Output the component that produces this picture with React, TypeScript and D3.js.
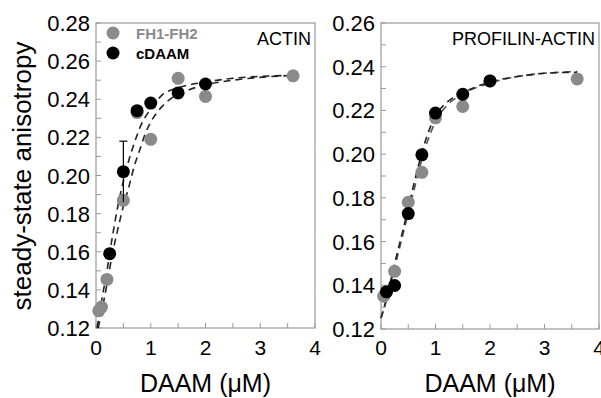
import * as d3 from "d3";
import { useEffect, useRef } from "react";

// concentrations (µM) and steady-state anisotropy
const actinFH1FH2X = [0.05, 0.1, 0.2, 0.5, 0.75, 1.0, 1.5, 2.0, 3.6];
const actinFH1FH2Y = [0.129, 0.131, 0.1455, 0.187, 0.233, 0.219, 0.251, 0.2415, 0.2523];
const actinFH1FH2Err = [0, 0, 0, 0, 0, 0, 0, 0, 0];
const actinCDAAMX = [0.25, 0.5, 0.75, 1.0, 1.5, 2.0];
const actinCDAAMY = [0.159, 0.202, 0.234, 0.238, 0.2433, 0.248];
const actinCDAAMErr = [0, 0.016, 0.002, 0, 0, 0.002];

const profFH1FH2X = [0.05, 0.1, 0.25, 0.5, 0.75, 1.0, 1.5, 2.0, 3.6];
const profFH1FH2Y = [0.135, 0.137, 0.1464, 0.178, 0.1917, 0.2166, 0.2218, 0.2335, 0.2344];
const profFH1FH2Err = [0, 0, 0, 0, 0.002, 0.002, 0.003, 0.002, 0];
const profCDAAMX = [0.1, 0.25, 0.5, 0.75, 1.0, 1.5, 2.0];
const profCDAAMY = [0.137, 0.1399, 0.1728, 0.1997, 0.2188, 0.2274, 0.2335];
const profCDAAMErr = [0, 0, 0, 0.002, 0, 0.002, 0.002];

// fitted curves
const actinFitCDAAMX = [0.02, 0.1, 0.2, 0.3, 0.4, 0.5, 0.6, 0.7, 0.8, 1.0, 1.2, 1.5, 2.0, 2.5, 3.0, 3.6];
const actinFitCDAAMY = [0.12, 0.134, 0.15, 0.168, 0.184, 0.197, 0.208, 0.217, 0.225, 0.235, 0.242, 0.246, 0.249, 0.251, 0.252, 0.2525];
const actinFitFH1FH2X = [0.04, 0.1, 0.2, 0.3, 0.4, 0.5, 0.6, 0.7, 0.8, 0.9, 1.0, 1.2, 1.4, 1.7, 2.0, 2.5, 3.0, 3.6];
const actinFitFH1FH2Y = [0.12, 0.128, 0.143, 0.159, 0.172, 0.184, 0.194, 0.205, 0.2135, 0.222, 0.228, 0.236, 0.241, 0.245, 0.2475, 0.25, 0.2515, 0.2525];
const profFitCDAAMX = [0, 0.1, 0.2, 0.3, 0.4, 0.5, 0.6, 0.7, 0.8, 0.9, 1.0, 1.2, 1.5, 2.0, 2.5, 3.0, 3.6];
const profFitCDAAMY = [0.125, 0.134, 0.1445, 0.155, 0.165, 0.1755, 0.186, 0.196, 0.205, 0.212, 0.2175, 0.2235, 0.228, 0.233, 0.2355, 0.237, 0.2375];
const profFitFH1FH2X = [0, 0.1, 0.2, 0.3, 0.4, 0.5, 0.6, 0.7, 0.8, 0.9, 1.0, 1.2, 1.5, 2.0, 2.5, 3.0, 3.6];
const profFitFH1FH2Y = [0.125, 0.133, 0.143, 0.153, 0.163, 0.173, 0.183, 0.193, 0.202, 0.209, 0.215, 0.222, 0.2275, 0.2325, 0.2355, 0.237, 0.2378];

const xTicks = [0, 1, 2, 3, 4];
const actinYTicks = [0.12, 0.14, 0.16, 0.18, 0.2, 0.22, 0.24, 0.26, 0.28];
const profYTicks = [0.12, 0.14, 0.16, 0.18, 0.2, 0.22, 0.24, 0.26];

const GRAY = "#8a8a8a";
const FONT = "'Liberation Sans', Arial, sans-serif";

const zip = (xs: number[], ys: number[], es?: number[]) =>
  xs.map((x, i) => ({ x, y: ys[i], e: es ? es[i] : 0 }));

const App = () => {
  const ref = useRef<SVGSVGElement>(null);

  useEffect(() => {
    const svg = d3.select(ref.current);
    svg.selectAll("*").remove();

    const panels = [
      {
        x0: 96, x1: 315, y0: 328, y1: 23, yMax: 0.28, yTicks: actinYTicks,
        gray: zip(actinFH1FH2X, actinFH1FH2Y, actinFH1FH2Err),
        black: zip(actinCDAAMX, actinCDAAMY, actinCDAAMErr),
        fits: [
          { d: zip(actinFitCDAAMX, actinFitCDAAMY), c: "#222" },
          { d: zip(actinFitFH1FH2X, actinFitFH1FH2Y), c: "#222" },
        ],
        label: "ACTIN", legend: true,
      },
      {
        x0: 381, x1: 599, y0: 329, y1: 23, yMax: 0.26, yTicks: profYTicks,
        gray: zip(profFH1FH2X, profFH1FH2Y, profFH1FH2Err),
        black: zip(profCDAAMX, profCDAAMY, profCDAAMErr),
        fits: [
          { d: zip(profFitFH1FH2X, profFitFH1FH2Y), c: "#555" },
          { d: zip(profFitCDAAMX, profFitCDAAMY), c: "#222" },
        ],
        label: "PROFILIN-ACTIN", legend: false,
      },
    ];

    panels.forEach((p) => {
      const x = d3.scaleLinear().domain([0, 4]).range([p.x0, p.x1]);
      const y = d3.scaleLinear().domain([0.12, p.yMax]).range([p.y0, p.y1]);
      const g = svg.append("g");

      // frame
      g.append("rect")
        .attr("x", p.x0).attr("y", p.y1)
        .attr("width", p.x1 - p.x0).attr("height", p.y0 - p.y1)
        .attr("fill", "none").attr("stroke", "#9a9a9a").attr("stroke-width", 1.2);

      // ticks (inward)
      d3.range(0, 4.01, 0.5).forEach((t) => {
        g.append("line")
          .attr("x1", x(t)).attr("x2", x(t))
          .attr("y1", p.y0).attr("y2", p.y0 - 5)
          .attr("stroke", "#9a9a9a");
      });
      d3.range(0.12, p.yMax + 0.0001, 0.01).forEach((t) => {
        g.append("line")
          .attr("x1", p.x0).attr("x2", p.x0 + 5)
          .attr("y1", y(t)).attr("y2", y(t))
          .attr("stroke", "#9a9a9a");
      });

      g.selectAll(".xl").data(xTicks).enter().append("text")
        .attr("x", (d) => x(d)).attr("y", 355)
        .attr("text-anchor", "middle")
        .attr("font-family", FONT).attr("font-size", 21)
        .text((d) => d);
      g.selectAll(".yl").data(p.yTicks).enter().append("text")
        .attr("x", p.x0 - 6).attr("y", (d) => y(d) + 8)
        .attr("text-anchor", "end")
        .attr("font-family", FONT).attr("font-size", 22)
        .text((d) => d3.format(".2f")(d));

      g.append("text")
        .attr("x", (p.x0 + p.x1) / 2).attr("y", 392)
        .attr("text-anchor", "middle")
        .attr("font-family", FONT).attr("font-size", 25)
        .text("DAAM (\u03bcM)");

      // fits
      const line = d3.line<{ x: number; y: number }>()
        .x((d) => x(d.x)).y((d) => y(d.y))
        .curve(d3.curveMonotoneX);
      p.fits.forEach((f) => {
        g.append("path")
          .attr("d", line(f.d))
          .attr("fill", "none").attr("stroke", f.c)
          .attr("stroke-width", 1.6).attr("stroke-dasharray", "7,5");
      });

      // points
      [{ d: p.gray, c: GRAY }, { d: p.black, c: "#000" }].forEach((s) => {
        s.d.filter((d) => d.e > 0).forEach((d) => {
          g.append("line")
            .attr("x1", x(d.x)).attr("x2", x(d.x))
            .attr("y1", y(d.y - d.e)).attr("y2", y(d.y + d.e))
            .attr("stroke", s.c).attr("stroke-width", 1.2);
          g.append("line")
            .attr("x1", x(d.x) - 4).attr("x2", x(d.x) + 4)
            .attr("y1", y(d.y + d.e)).attr("y2", y(d.y + d.e))
            .attr("stroke", s.c).attr("stroke-width", 1.2);
        });
        g.selectAll(null).data(s.d).enter().append("circle")
          .attr("cx", (d) => x(d.x)).attr("cy", (d) => y(d.y))
          .attr("r", 6.5).attr("fill", s.c);
      });

      if (p.legend) {
        g.append("circle").attr("cx", 113).attr("cy", 33).attr("r", 6.5).attr("fill", GRAY);
        g.append("text").attr("x", 136).attr("y", 39)
          .attr("font-family", FONT).attr("font-size", 15).attr("font-weight", "bold")
          .attr("fill", GRAY).text("FH1-FH2");
        g.append("circle").attr("cx", 113).attr("cy", 53).attr("r", 6.5).attr("fill", "#000");
        g.append("text").attr("x", 136).attr("y", 59)
          .attr("font-family", FONT).attr("font-size", 15).attr("font-weight", "bold")
          .attr("fill", "#000").text("cDAAM");
      }
      g.append("text")
        .attr("x", p.x1 - 4).attr("y", 45)
        .attr("text-anchor", "end")
        .attr("font-family", FONT).attr("font-size", 18)
        .text(p.label);
    });

    svg.append("text")
      .attr("transform", "translate(31,176) rotate(-90)")
      .attr("text-anchor", "middle")
      .attr("font-family", FONT).attr("font-size", 26)
      .text("steady-state anisotropy");
  }, []);

  return (
    <svg
      ref={ref}
      width={601}
      height={398}
      style={{ position: "absolute", left: 0, top: 0, background: "#fff" }}
    />
  );
};

export default App;
